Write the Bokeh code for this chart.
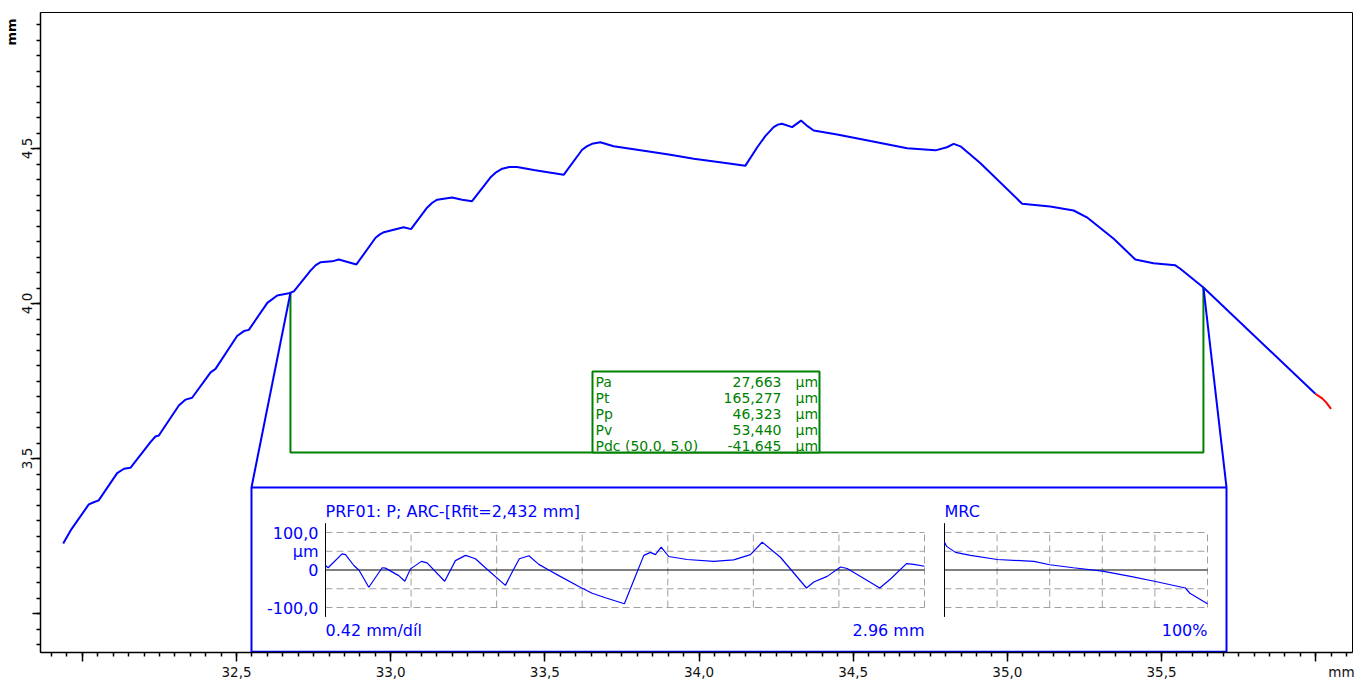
import numpy as np
from bokeh.plotting import figure
from bokeh.models import Range1d, FixedTicker, Title
from bokeh.core.properties import value
from bokeh.embed import file_html
from bokeh.resources import INLINE

# ------------------------------------------------------------------ data
# main measured profile (x in mm, z in mm)
main_x = [31.938, 31.962, 32.021, 32.037, 32.053, 32.113, 32.135, 32.156, 32.221, 32.237,
          32.248, 32.313, 32.335, 32.356, 32.416, 32.432, 32.502, 32.524, 32.540, 32.600,
          32.632, 32.670, 32.686, 32.740, 32.757, 32.772, 32.810, 32.832, 32.889, 32.951,
          32.965, 32.978, 33.010, 33.042, 33.066, 33.118, 33.135, 33.151, 33.199, 33.232,
          33.264, 33.324, 33.343, 33.362, 33.385, 33.410, 33.464, 33.561, 33.621, 33.636,
          33.653, 33.680, 33.723, 33.832, 33.907, 33.983, 34.080, 34.150, 34.189, 34.215,
          34.242, 34.256, 34.269, 34.302, 34.331, 34.352, 34.372, 34.448, 34.556, 34.675,
          34.767, 34.804, 34.826, 34.848, 34.912, 35.048, 35.139, 35.215, 35.258, 35.345,
          35.415, 35.474, 35.545, 35.561, 35.637, 35.999]
main_y = [3.226, 3.268, 3.352, 3.359, 3.365, 3.453, 3.467, 3.470, 3.553, 3.571,
          3.574, 3.671, 3.690, 3.696, 3.778, 3.789, 3.895, 3.911, 3.915, 4.002,
          4.026, 4.033, 4.039, 4.106, 4.124, 4.133, 4.136, 4.142, 4.126, 4.212,
          4.223, 4.230, 4.238, 4.246, 4.240, 4.309, 4.325, 4.335, 4.342, 4.335,
          4.330, 4.407, 4.424, 4.435, 4.440, 4.440, 4.431, 4.415, 4.496, 4.507,
          4.515, 4.520, 4.507, 4.491, 4.480, 4.467, 4.454, 4.444, 4.504, 4.540,
          4.569, 4.577, 4.580, 4.569, 4.590, 4.572, 4.558, 4.545, 4.524, 4.501,
          4.494, 4.504, 4.515, 4.507, 4.453, 4.322, 4.313, 4.300, 4.278, 4.209,
          4.142, 4.130, 4.123, 4.112, 4.051, 3.709]
tail_x = [35.999, 36.021, 36.034, 36.050]
tail_y = [3.709, 3.694, 3.681, 3.660]

# evaluation window
eval_start = 32.675
eval_end = 35.636
eval_level = 3.519

# extracted profile P (x in mm from eval start, z in µm)
prf_x = [0.0, 0.013, 0.082, 0.099, 0.14, 0.165, 0.214, 0.28, 0.296, 0.362,
         0.392, 0.42, 0.474, 0.502, 0.589, 0.642, 0.692, 0.741, 0.79, 0.889,
         0.922, 0.958, 1.005, 1.054, 1.103, 1.153, 1.252, 1.318, 1.383, 1.477,
         1.523, 1.573, 1.606, 1.630, 1.659, 1.696, 1.787, 1.919, 2.017, 2.10,
         2.158, 2.248, 2.377, 2.413, 2.479, 2.545, 2.578, 2.739, 2.792, 2.871,
         2.907, 2.96]
prf_y = [12, 6, 43, 41, 12, 0, -46, 6, 5, -15,
         -30, 3, 23, 19, -30, 25, 39, 30, 6, -41,
         -6, 30, 38, 15, 0, -15, -44, -62, -74, -90,
         -28, 39, 47, 41, 61, 36, 28, 23, 27, 41,
         74, 34, -48, -32, -17, 8, 4, -48, -24, 17,
         15, 10]
prf_length = 2.96
prf_divisions = 7

# material ratio curve (% vs µm)
mrc_pct = [0, 0.8, 4.2, 9.9, 20, 34, 40, 49, 60, 70.7, 79.8, 91.6, 93.3, 100]
mrc_um = [74, 63, 47, 39, 28, 23, 14, 6, -3, -17, -30, -48, -62, -90]
mrc_grid_pct = [20, 40, 60, 80, 100]

grid_levels = [-100, -50, 50, 100]
inset_ytick_values = [100, 50, 0, -100]
inset_ytick_labels = ["100,0", "µm", "0", "-100,0"]
prf_title = "PRF01: P; ARC-[Rfit=2,432 mm]"
prf_scale_label = "0.42 mm/díl"
prf_len_label = "2.96 mm"
mrc_title = "MRC"
mrc_end_label = "100%"

stat_names = ["Pa", "Pt", "Pp", "Pv", "Pdc (50.0, 5.0)"]
stat_values = ["27,663", "165,277", "46,323", "53,440", "-41,645"]
stat_units = ["µm", "µm", "µm", "µm", "µm"]

NBSP = "\u00a0"
x_ticks = [32.0, 32.5, 33.0, 33.5, 34.0, 34.5, 35.0, 35.5, 36.0]
x_tick_labels = ["", "32,5", "33,0", "33,5", "34,0", "34,5", "35,0", "35,5", NBSP * 12 + "mm"]
y_ticks = [3.0, 3.5, 4.0, 4.5]
y_tick_labels = ["", "3,5", "4,0", "4,5"]

# ------------------------------------------------------------------ layout (page pixels)
FRAME_L, FRAME_R, FRAME_T, FRAME_B = 40, 1352, 12, 652


def x_range_from(pa, va, pb, vb):
    k = (vb - va) / (pb - pa)
    return Range1d(start=va + (FRAME_L - pa) * k, end=va + (FRAME_R - pa) * k)


def y_range_from(pa, va, pb, vb):
    k = (vb - va) / (pb - pa)
    return Range1d(start=va + (FRAME_B - pa) * k, end=va + (FRAME_T - pa) * k)


xr = x_range_from(236, 32.5, 1161, 35.5)
yr = y_range_from(148, 4.5, 458, 3.5)

p = figure(width=1361, height=684, x_range=xr, y_range=yr,
           output_backend="svg", toolbar_location=None,
           min_border_left=FRAME_L, min_border_right=1361 - FRAME_R,
           min_border_top=FRAME_T, min_border_bottom=684 - FRAME_B)
p.extra_x_ranges = {"prf": x_range_from(325, 0, 924, prf_length),
                    "mrc": x_range_from(944, 0, 1207, 100)}
p.extra_y_ranges = {"um": y_range_from(569.5, 0, 532, 100),
                    "row": y_range_from(381, 0, 397, 1)}

p.xgrid.visible = False
p.ygrid.visible = False
p.outline_line_color = "black"
p.outline_line_width = 1
p.background_fill_color = "white"
p.border_fill_color = "white"

minor_x = [round(v, 3) for v in np.arange(31.9, 36.11, 0.05)]
minor_y = [round(v, 3) for v in np.arange(2.9, 4.95, 0.05)]
p.xaxis.ticker = FixedTicker(ticks=x_ticks, minor_ticks=minor_x)
p.yaxis.ticker = FixedTicker(ticks=y_ticks, minor_ticks=minor_y)
p.xaxis.major_label_overrides = dict(zip(x_ticks, x_tick_labels))
p.yaxis.major_label_overrides = dict(zip(y_ticks, y_tick_labels))
p.yaxis.major_label_orientation = "vertical"
for ax in (p.xaxis[0], p.yaxis[0]):
    ax.axis_line_width = 1.5
    ax.axis_line_color = "black"
    ax.major_tick_line_width = 1.5
    ax.minor_tick_line_width = 1.5
    ax.major_tick_line_color = "black"
    ax.minor_tick_line_color = "black"
    ax.major_tick_out = 9
    ax.major_tick_in = 0
    ax.minor_tick_out = 4
    ax.minor_tick_in = 0
    ax.major_label_standoff = 2
    ax.major_label_text_font = "DejaVu Sans"
    ax.major_label_text_font_size = "13.5px"
    ax.major_label_text_color = "#111111"
p.yaxis.major_label_standoff = 1
p.yaxis.major_tick_out = 8

# vertical unit label at the top of the y axis
p.add_layout(Title(text="mm", align="right", text_font="DejaVu Sans", text_font_size="13px",
                   text_font_style="bold", text_color="black", standoff=0, offset=6), "left")

BLUE = "#0000ff"
GREEN = "#008000"
GRID = "#a0a0a0"
FONT = value("DejaVu Sans")

# main curve
p.line(main_x, main_y, line_color=BLUE, line_width=2)
p.line(tail_x, tail_y, line_color="#ff0000", line_width=2)

# evaluation bracket (green)
y_ev0 = float(np.interp(eval_start, main_x, main_y))
y_ev1 = float(np.interp(eval_end, main_x, main_y))
p.line([eval_start, eval_start, eval_end, eval_end], [y_ev0, eval_level, eval_level, y_ev1],
       line_color=GREEN, line_width=2)

# stats box
box_l, box_r, box_t = 33.6546, 34.3908, 3.7806
p.quad(left=box_l, right=box_r, top=box_t, bottom=eval_level,
       fill_color="white", line_color=GREEN, line_width=2)
rows = list(range(len(stat_names)))
p.text(x=[33.6643] * len(rows), y=rows, text=stat_names, y_range_name="row",
       text_font=FONT, text_font_size="14px", text_color=GREEN,
       text_align="left", text_baseline="middle")
p.text(x=[34.2676] * len(rows), y=rows, text=stat_values, y_range_name="row",
       text_font=FONT, text_font_size="14px", text_color=GREEN,
       text_align="right", text_baseline="middle")
p.text(x=[34.3130] * len(rows), y=rows, text=stat_units, y_range_name="row",
       text_font=FONT, text_font_size="14px", text_color=GREEN,
       text_align="left", text_baseline="middle")

# inset frame + connectors
inset_l, inset_r, inset_t, inset_b = 32.5486, 35.7108, 3.4065, 2.877
p.line([eval_start, inset_l], [y_ev0, inset_t], line_color=BLUE, line_width=2)
p.line([eval_end, inset_r], [y_ev1, inset_t], line_color=BLUE, line_width=2)
p.quad(left=inset_l, right=inset_r, top=inset_t, bottom=inset_b,
       fill_color="white", line_color=BLUE, line_width=2)

# ---- profile sub-plot
prf_vgrid = [prf_length * k / prf_divisions for k in range(1, prf_divisions + 1)]
p.segment(x0=[0] * 4, x1=[prf_length] * 4, y0=grid_levels, y1=grid_levels,
          x_range_name="prf", y_range_name="um", line_color=GRID, line_dash="7 4", line_width=1)
p.segment(x0=prf_vgrid, x1=prf_vgrid, y0=[-100] * len(prf_vgrid), y1=[100] * len(prf_vgrid),
          x_range_name="prf", y_range_name="um", line_color=GRID, line_dash="7 4", line_width=1)
p.segment(x0=[0], x1=[prf_length], y0=[0], y1=[0], x_range_name="prf", y_range_name="um",
          line_color="black", line_width=1)
p.segment(x0=[0], x1=[0], y0=[-125], y1=[125], x_range_name="prf", y_range_name="um",
          line_color="black", line_width=1)
p.line(prf_x, prf_y, x_range_name="prf", y_range_name="um", line_color=BLUE, line_width=1.2)

INSET_FS = "16px"
p.text(x=[0] * 4, y=inset_ytick_values, text=inset_ytick_labels, x_offset=-7,
       x_range_name="prf", y_range_name="um", text_font=FONT, text_font_size=INSET_FS,
       text_color=BLUE, text_align="right", text_baseline="middle")
p.text(x=[0], y=[156], text=[prf_title], x_range_name="prf", y_range_name="um",
       text_font=FONT, text_font_size=INSET_FS, text_color=BLUE,
       text_align="left", text_baseline="middle")
p.text(x=[0], y=[-161], text=[prf_scale_label], x_range_name="prf", y_range_name="um",
       text_font=FONT, text_font_size=INSET_FS, text_color=BLUE,
       text_align="left", text_baseline="middle")
p.text(x=[prf_length], y=[-161], text=[prf_len_label], x_range_name="prf", y_range_name="um",
       text_font=FONT, text_font_size=INSET_FS, text_color=BLUE,
       text_align="right", text_baseline="middle")

# ---- MRC sub-plot
p.segment(x0=[0] * 4, x1=[100] * 4, y0=grid_levels, y1=grid_levels,
          x_range_name="mrc", y_range_name="um", line_color=GRID, line_dash="7 4", line_width=1)
p.segment(x0=mrc_grid_pct, x1=mrc_grid_pct, y0=[-100] * 5, y1=[100] * 5,
          x_range_name="mrc", y_range_name="um", line_color=GRID, line_dash="7 4", line_width=1)
p.segment(x0=[0], x1=[100], y0=[0], y1=[0], x_range_name="mrc", y_range_name="um",
          line_color="black", line_width=1)
p.segment(x0=[0], x1=[0], y0=[-125], y1=[125], x_range_name="mrc", y_range_name="um",
          line_color="black", line_width=1)
p.line(mrc_pct, mrc_um, x_range_name="mrc", y_range_name="um", line_color=BLUE, line_width=1.2)
p.text(x=[0], y=[156], text=[mrc_title], x_range_name="mrc", y_range_name="um",
       text_font=FONT, text_font_size=INSET_FS, text_color=BLUE,
       text_align="left", text_baseline="middle")
p.text(x=[100], y=[-161], text=[mrc_end_label], x_range_name="mrc", y_range_name="um",
       text_font=FONT, text_font_size=INSET_FS, text_color=BLUE,
       text_align="right", text_baseline="middle")

open("out.html", "w").write(file_html(p, INLINE))
